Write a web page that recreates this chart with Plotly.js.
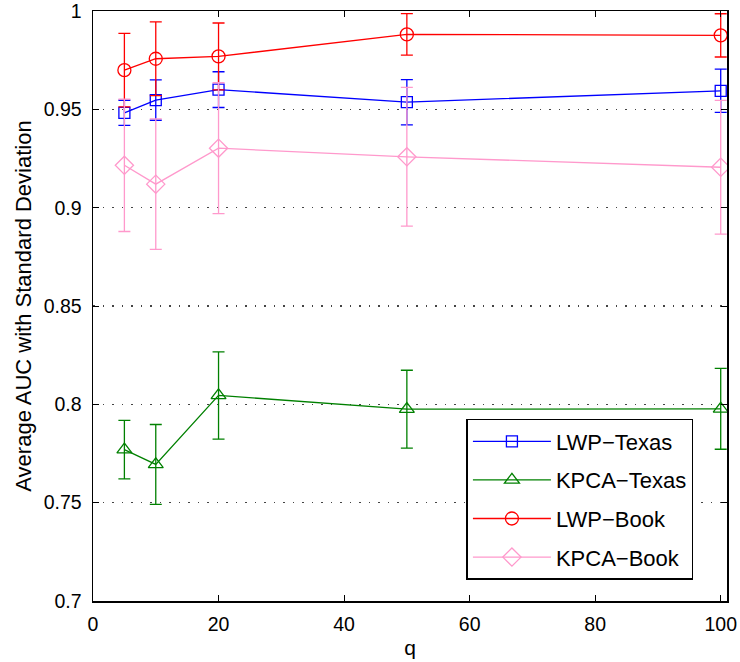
<!DOCTYPE html>
<html>
<head>
<meta charset="utf-8">
<script src="https://cdn.plot.ly/plotly-3.0.1.min.js"></script>
<style>html,body{margin:0;padding:0;background:#fff;}#chart{width:740px;height:662px;}</style>
</head>
<body>
<div id="chart"></div>
<script>
const q = [5, 10, 20, 50, 100];

const lwpTexas = [0.9483, 0.9548, 0.9601, 0.9537, 0.9595];
const lwpTexasStd = [0.0064, 0.0103, 0.0091, 0.0115, 0.0110];

const kpcaTexas = [0.7769, 0.7694, 0.8045, 0.7975, 0.7977];
const kpcaTexasStd = [0.0149, 0.0203, 0.0222, 0.0198, 0.0206];

const lwpBook = [0.9700, 0.9758, 0.9770, 0.9882, 0.9877];
const lwpBookStd = [0.0187, 0.0188, 0.0170, 0.0106, 0.0110];

const kpcaBook = [0.9216, 0.9120, 0.9303, 0.9259, 0.9206];
const kpcaBookStd = [0.0337, 0.0332, 0.0333, 0.0353, 0.0340];

const seriesNames = ['LWP\u2212Texas', 'KPCA\u2212Texas', 'LWP\u2212Book', 'KPCA\u2212Book'];

const yTicks = [0.7, 0.75, 0.8, 0.85, 0.9, 0.95, 1];
const yTickText = ['0.7', '0.75', '0.8', '0.85', '0.9', '0.95', '1'];
const xTicks = [0, 20, 40, 60, 80, 100];

function mk(name, y, err, color, symbol, size, group) {
  return {
    x: q, y: y, name: name, type: 'scatter', mode: 'lines+markers',
    legendgroup: group,
    line: {color: color, width: 1.3},
    marker: {symbol: symbol, size: size, color: color, line: {color: color, width: 1.3}},
    error_y: {type: 'data', array: err, visible: true, color: color, thickness: 1.3, width: 6}
  };
}

const data = [
  mk(seriesNames[0], lwpTexas, lwpTexasStd, '#0000FF', 'square-open', 11, 'a'),
  mk(seriesNames[1], kpcaTexas, kpcaTexasStd, '#008000', 'triangle-up-open', 13, 'b'),
  mk(seriesNames[2], lwpBook, lwpBookStd, '#FF0000', 'circle-open', 13, 'c'),
  mk(seriesNames[3], kpcaBook, kpcaBookStd, '#FF99CC', 'diamond-open', 14, 'd')
];

const fontFam = '"Liberation Sans", Arial, Helvetica, sans-serif';

const layout = {
  width: 740, height: 662,
  margin: {l: 93, r: 13, t: 11, b: 61},
  paper_bgcolor: '#fff', plot_bgcolor: '#fff',
  font: {family: fontFam, size: 19, color: '#000'},
  showlegend: true,
  legend: {
    x: 0.589, y: 0.3085, xanchor: 'left', yanchor: 'top',
    bgcolor: '#fff', bordercolor: '#000', borderwidth: 1.5,
    font: {family: fontFam, size: 22, color: '#000'},
    traceorder: 'grouped', tracegroupgap: 7,
    itemwidth: 78
  },
  xaxis: {
    range: [0, 101], tickvals: xTicks, ticktext: xTicks.map(String),
    ticks: 'inside', ticklen: 6, tickcolor: '#000', tickwidth: 1,
    showline: true, linecolor: '#000', linewidth: 1.5, mirror: 'ticks',
    showgrid: false, zeroline: false,
    tickfont: {size: 19.5},
    ticklabelstandoff: 5,
    ticklabeloverflow: 'allow',
    title: {text: 'q', font: {size: 21}, standoff: 6}
  },
  yaxis: {
    range: [0.6999, 1.0001], tickvals: yTicks, ticktext: yTickText,
    ticks: 'inside', ticklen: 6, tickcolor: '#000', tickwidth: 1,
    showline: true, linecolor: '#000', linewidth: 1.5, mirror: 'ticks',
    showgrid: true, gridcolor: '#444', griddash: '1.5px,8px', gridwidth: 1.5,
    zeroline: false,
    tickfont: {size: 19.5},
    ticklabelstandoff: 6,
    ticklabeloverflow: 'allow',
    title: {text: 'Average AUC with Standard Deviation', font: {size: 22}, standoff: 6}
  }
};

Plotly.newPlot('chart', data, layout, {displayModeBar: false, staticPlot: true});
</script>
</body>
</html>
